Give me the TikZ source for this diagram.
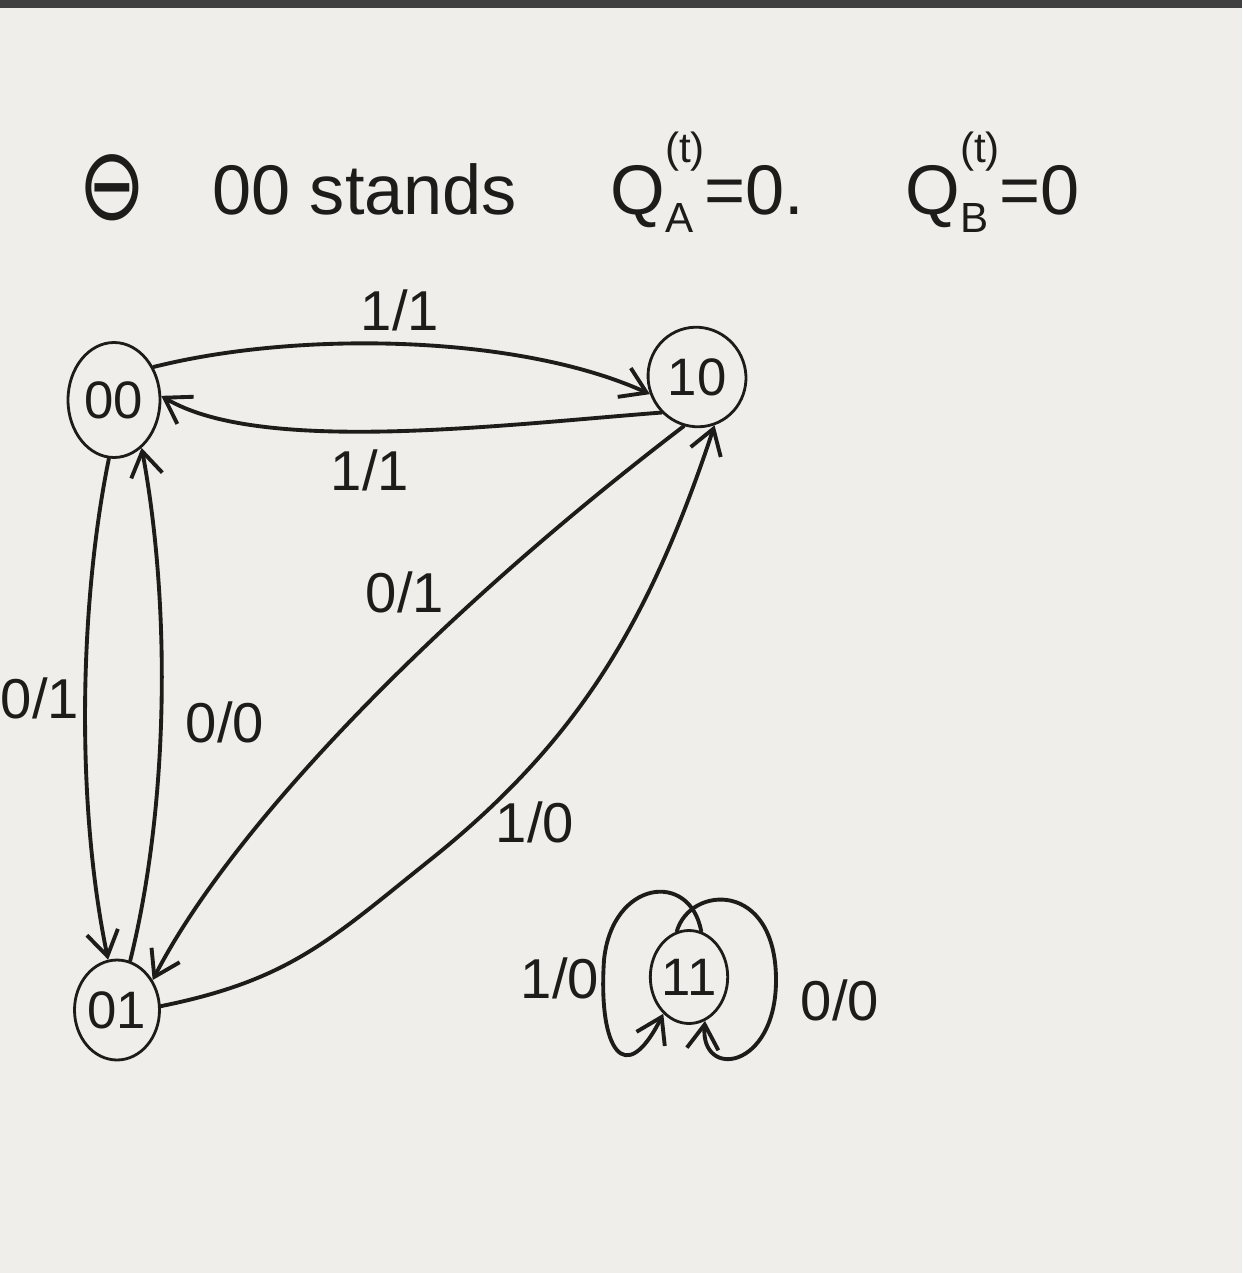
\documentclass[tikz,border=0pt]{standalone}
\usepackage{fontspec}
\setmainfont{Liberation Sans}
\newfontfamily\symfont{DejaVu Sans}
\usetikzlibrary{arrows.meta,shapes.geometric}
\definecolor{paper}{RGB}{239,238,234}
\definecolor{ink}{RGB}{30,28,26}
\newcommand{\qsym}[1]{Q\rlap{\raisebox{-0.25em}{\fontsize{24}{28}\selectfont #1}}\raisebox{0.75em}{\fontsize{24}{28}\selectfont (t)}}
\tikzset{
  pen/.style={draw=ink,line width=2.2pt,line cap=round,line join=round},
  arr/.style={pen,-{Straight Barb[length=14pt,width=18pt,line width=2.2pt]}},
  stbox/.style={ellipse,draw=ink,line width=1.6pt,inner sep=0pt,text=ink,font=\fontsize{30}{34}\selectfont},
  lab/.style={text=ink,font=\fontsize{32}{36}\selectfont,inner sep=0pt},
  head/.style={text=ink,font=\fontsize{40}{46}\selectfont,inner sep=0pt,anchor=base west}
}
\begin{document}
\begin{tikzpicture}[x=0.02cm,y=-0.02cm]
\useasboundingbox (0,0) rectangle (1242,1273);
\fill[paper] (0,0) rectangle (1242,1273);
\fill[black!75] (0,0) rectangle (1242,8);

% header
\node[text=ink,font=\fontsize{46}{50}\selectfont,inner sep=0pt] (h0) at (112,188) {\scalebox{1}[1.25]{\symfont ⊖}};
\node[head] (h1) at (212,215) {00 stands};
\node[head] (h2) at (610,215) {\qsym{A}=0.};
\node[head] (h3) at (905,215) {\qsym{B}=0};

% states
\node[stbox,minimum width=1.84cm,minimum height=2.3cm] (n00) at (114,400) {00};
\node[stbox,minimum width=1.8cm,minimum height=2.0cm,rotate=25] (n10) at (697,377) {\rotatebox{-25}{10}};
\node[stbox,minimum width=1.7cm,minimum height=2.0cm] (n01) at (117,1010) {01};
\node[stbox,minimum width=1.46cm,minimum height=1.86cm] (n11) at (689,977) {11};

% transitions 00 <-> 10
\draw[arr] (n00.40) .. controls (300,330) and (520,335) .. (n10.175);
\draw[arr] (n10.200) .. controls (500,425) and (260,455) .. (n00.5);
% 00 <-> 01
\draw[arr] (n00.265) .. controls (80,600) and (75,800) .. (n01.100);
\draw[arr] (n01.75) .. controls (170,800) and (170,600) .. (n00.300);
% 10 -> 01
\draw[arr] (n10.230) .. controls (430,620) and (230,830) .. (n01.40);
% 01 -> 10
\draw[arr] (n01.5) .. controls (290,980) and (330,940) .. (430,860)
  .. controls (580,740) and (650,620) .. (n10.265);
% self loops on 11
\draw[arr] (n11.75) .. controls (690,870) and (612,880) .. (604,960)
  .. controls (598,1050) and (625,1090) .. (n11.235);
\draw[arr] (n11.105) .. controls (690,885) and (776,880) .. (776,980)
  .. controls (776,1070) and (700,1080) .. (n11.290);

% labels
\node[lab] (l1) at (400,310) {1/1};
\node[lab] (l2) at (370,470) {1/1};
\node[lab] (l3) at (40,698) {0/1};
\node[lab] (l4) at (225,722) {0/0};
\node[lab] (l5) at (405,592) {0/1};
\node[lab] (l6) at (535,822) {1/0};
\node[lab] (l7) at (560,978) {1/0};
\node[lab] (l8) at (840,1000) {0/0};
\end{tikzpicture}
\end{document}
